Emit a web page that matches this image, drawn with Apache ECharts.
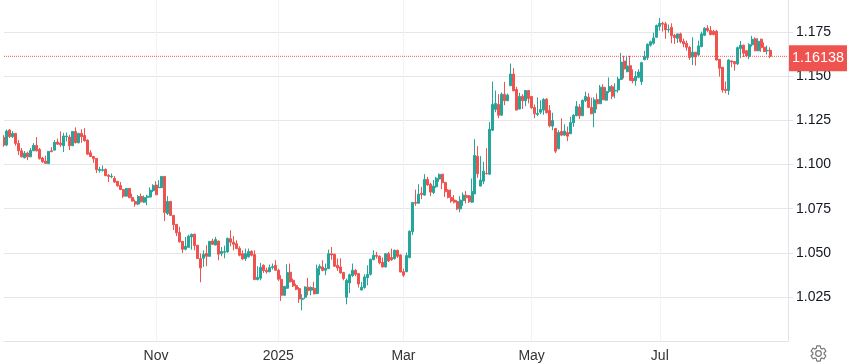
<!DOCTYPE html>
<html>
<head>
<meta charset="utf-8">
<title>Candles</title>
<script src="https://cdn.jsdelivr.net/npm/echarts@6/dist/echarts.min.js"></script>
<style>
  html, body { margin: 0; padding: 0; background: #fff; }
  #chart { width: 847px; height: 364px; }
</style>
</head>
<body>
<div id="chart"></div>
<script>
// every row: open, close, low, high
const candlesAugOct = [
  [1.1154,1.1111,1.1101,1.1167],[1.1111,1.1190,1.1105,1.1199],[1.1196,1.1158,1.1150,1.1201],[1.1158,1.1177,1.1150,1.1190],
  [1.1177,1.1120,1.1107,1.1180],[1.1120,1.1078,1.1054,1.1139],[1.1078,1.1044,1.1042,1.1094],[1.1039,1.1065,1.1035,1.1077],
  [1.1065,1.1044,1.1025,1.1073],[1.1044,1.1080,1.1042,1.1094],[1.1078,1.1109,1.1077,1.1122],[1.1109,1.1078,1.1075,1.1156],
  [1.1086,1.1033,1.1029,1.1094],[1.1037,1.1016,1.1010,1.1044],[1.1020,1.1007,1.1005,1.1050],[1.1005,1.1075,1.1005,1.1075],
  [1.1078,1.1073,1.1071,1.1099],[1.1082,1.1126,1.1080,1.1139],[1.1128,1.1116,1.1111,1.1148],[1.1122,1.1112,1.1101,1.1188],
  [1.1107,1.1162,1.1071,1.1180],[1.1158,1.1162,1.1131,1.1182],[1.1156,1.1107,1.1082,1.1169],[1.1107,1.1188,1.1105,1.1190],
  [1.1188,1.1124,1.1120,1.1211],[1.1124,1.1177,1.1120,1.1180],[1.1177,1.1158,1.1124,1.1201],[1.1165,1.1135,1.1131,1.1207],
  [1.1139,1.1059,1.1056,1.1143],[1.1067,1.1046,1.1042,1.1082],[1.1046,1.1033,1.1010,1.1048],[1.1035,1.0971,1.0952,1.1037],
  [1.0967,1.0973,1.0954,1.0988],[1.0967,1.0971,1.0961,1.0995],[1.0973,1.0937,1.0935,1.0978],[1.0940,1.0933,1.0901,1.0946],
  [1.0931,1.0935,1.0923,1.0950],[1.0922,1.0901,1.0895,1.0935],[1.0905,1.0880,1.0874,1.0908],[1.0882,1.0859,1.0855,1.0901],
  [1.0859,1.0821,1.0810,1.0861],[1.0821,1.0865,1.0819,1.0867],[1.0865,1.0812,1.0810,1.0867],[1.0814,1.0793,1.0791,1.0836],
  [1.0791,1.0776,1.0761,1.0802],[1.0776,1.0819,1.0770,1.0827],[1.0819,1.0789,1.0785,1.0836],[1.0787,1.0814,1.0782,1.0825],
  [1.0814,1.0821,1.0770,1.0829],[1.0816,1.0855,1.0814,1.0871],[1.0852,1.0882,1.0844,1.0889]
];
const candlesNovDec = [
  [1.0884,1.0829,1.0827,1.0906],[1.0869,1.0871,1.0869,1.0912],[1.0869,1.0933,1.0867,1.0935],[1.0933,1.0729,1.0680,1.0935],
  [1.0723,1.0791,1.0714,1.0821],[1.0791,1.0712,1.0710,1.0795],[1.0712,1.0659,1.0629,1.0714],[1.0661,1.0613,1.0595,1.0663],
  [1.0615,1.0562,1.0558,1.0647],[1.0565,1.0520,1.0499,1.0567],[1.0520,1.0537,1.0514,1.0590],[1.0531,1.0594,1.0528,1.0603],
  [1.0590,1.0605,1.0518,1.0609],[1.0605,1.0541,1.0514,1.0609],[1.0543,1.0467,1.0467,1.0543],[1.0467,1.0414,1.0333,1.0496],
  [1.0469,1.0492,1.0420,1.0514],[1.0496,1.0480,1.0424,1.0543],[1.0480,1.0565,1.0480,1.0567],[1.0567,1.0548,1.0544,1.0580],
  [1.0544,1.0575,1.0543,1.0590],[1.0567,1.0492,1.0458,1.0567],[1.0495,1.0507,1.0480,1.0533],[1.0503,1.0507,1.0469,1.0541],
  [1.0505,1.0582,1.0501,1.0586],[1.0580,1.0560,1.0537,1.0628],[1.0560,1.0548,1.0514,1.0594],[1.0552,1.0524,1.0520,1.0571],
  [1.0526,1.0486,1.0480,1.0537],[1.0495,1.0465,1.0461,1.0514],[1.0467,1.0495,1.0454,1.0524],[1.0477,1.0507,1.0473,1.0524],
  [1.0509,1.0486,1.0480,1.0514],[1.0490,1.0348,1.0346,1.0514],[1.0348,1.0361,1.0344,1.0424],[1.0356,1.0418,1.0344,1.0443],
  [1.0429,1.0399,1.0386,1.0435],[1.0401,1.0392,1.0382,1.0416],[1.0392,1.0416,1.0390,1.0433],[1.0416,1.0422,1.0405,1.0439],
  [1.0429,1.0401,1.0397,1.0458],[1.0401,1.0350,1.0341,1.0410]
];
const candlesJanFeb = [
  [1.0350,1.0259,1.0227,1.0373],[1.0259,1.0310,1.0259,1.0310],[1.0299,1.0388,1.0295,1.0435],[1.0390,1.0335,1.0333,1.0439],
  [1.0344,1.0312,1.0306,1.0354],[1.0314,1.0293,1.0288,1.0325],[1.0297,1.0238,1.0216,1.0306],[1.0236,1.0240,1.0174,1.0265],
  [1.0248,1.0306,1.0238,1.0310],[1.0305,1.0286,1.0259,1.0358],[1.0288,1.0303,1.0259,1.0310],[1.0299,1.0267,1.0265,1.0335],
  [1.0269,1.0410,1.0265,1.0433],[1.0412,1.0424,1.0373,1.0435],[1.0420,1.0401,1.0395,1.0458],[1.0401,1.0412,1.0373,1.0439],
  [1.0410,1.0495,1.0408,1.0518],[1.0494,1.0488,1.0461,1.0533],[1.0492,1.0424,1.0420,1.0495],[1.0429,1.0414,1.0397,1.0467],
  [1.0420,1.0386,1.0382,1.0469],[1.0388,1.0354,1.0344,1.0392],[1.0248,1.0344,1.0208,1.0354],[1.0329,1.0376,1.0272,1.0382],
  [1.0371,1.0401,1.0363,1.0439],[1.0401,1.0378,1.0367,1.0407],[1.0382,1.0323,1.0303,1.0386],[1.0289,1.0305,1.0288,1.0335],
  [1.0303,1.0363,1.0297,1.0378],[1.0359,1.0378,1.0316,1.0429],[1.0378,1.0463,1.0371,1.0467],[1.0461,1.0486,1.0458,1.0514],
  [1.0486,1.0480,1.0467,1.0505],[1.0480,1.0443,1.0435,1.0486],[1.0446,1.0420,1.0416,1.0473],[1.0420,1.0495,1.0416,1.0499],
  [1.0495,1.0454,1.0448,1.0505],[1.0473,1.0461,1.0454,1.0524],[1.0467,1.0514,1.0461,1.0518],[1.0514,1.0480,1.0471,1.0518],
  [1.0488,1.0391,1.0390,1.0492],[1.0393,1.0373,1.0363,1.0410]
];
const candlesMarApr = [
  [1.0393,1.0484,1.0390,1.0501],[1.0473,1.0622,1.0469,1.0628],[1.0620,1.0785,1.0601,1.0788],[1.0786,1.0781,1.0766,1.0858],
  [1.0781,1.0832,1.0779,1.0889],[1.0838,1.0831,1.0804,1.0874],[1.0827,1.0916,1.0825,1.0946],[1.0916,1.0885,1.0880,1.0931],
  [1.0889,1.0844,1.0821,1.0897],[1.0842,1.0878,1.0833,1.0912],[1.0874,1.0923,1.0868,1.0931],[1.0918,1.0944,1.0902,1.0950],
  [1.0946,1.0897,1.0861,1.0946],[1.0899,1.0846,1.0817,1.0902],[1.0855,1.0814,1.0808,1.0861],[1.0814,1.0793,1.0783,1.0859],
  [1.0799,1.0787,1.0780,1.0827],[1.0791,1.0749,1.0742,1.0799],[1.0749,1.0799,1.0730,1.0821],[1.0795,1.0827,1.0766,1.0842],
  [1.0825,1.0812,1.0780,1.0850],[1.0823,1.0789,1.0783,1.0827],[1.0787,1.0848,1.0783,1.0921],[1.0834,1.1052,1.0833,1.1144],
  [1.1048,1.0948,1.0925,1.1105],[1.0878,1.0912,1.0878,1.1048],[1.0906,1.0963,1.0889,1.1016],[1.0950,1.0948,1.0944,1.1093],
  [1.0946,1.1201,1.0942,1.1241],[1.1195,1.1341,1.1190,1.1471],[1.1313,1.1347,1.1297,1.1420],[1.1341,1.1280,1.1263,1.1399],
  [1.1280,1.1399,1.1278,1.1409],[1.1399,1.1362,1.1337,1.1469],[1.1362,1.1394,1.1360,1.1403],[1.1447,1.1513,1.1445,1.1573],
  [1.1513,1.1418,1.1417,1.1547],[1.1426,1.1309,1.1307,1.1441],[1.1315,1.1386,1.1313,1.1407],[1.1388,1.1362,1.1315,1.1399],
  [1.1362,1.1420,1.1331,1.1422],[1.1420,1.1375,1.1347,1.1422],[1.1386,1.1322,1.1316,1.1390]
];
const candlesMayJun = [
  [1.1324,1.1288,1.1263,1.1341],[1.1284,1.1290,1.1275,1.1381],[1.1297,1.1313,1.1286,1.1365],[1.1309,1.1369,1.1282,1.1377],
  [1.1371,1.1294,1.1290,1.1377],[1.1307,1.1220,1.1211,1.1337],[1.1218,1.1250,1.1195,1.1294],[1.1205,1.1076,1.1065,1.1207],
  [1.1090,1.1182,1.1086,1.1195],[1.1188,1.1167,1.1161,1.1262],[1.1167,1.1190,1.1165,1.1229],[1.1182,1.1161,1.1133,1.1216],
  [1.1175,1.1239,1.1173,1.1271],[1.1237,1.1280,1.1214,1.1286],[1.1277,1.1330,1.1275,1.1360],[1.1326,1.1277,1.1258,1.1343],
  [1.1277,1.1364,1.1277,1.1369],[1.1362,1.1386,1.1354,1.1413],[1.1382,1.1324,1.1320,1.1405],[1.1324,1.1288,1.1286,1.1379],
  [1.1294,1.1367,1.1212,1.1381],[1.1369,1.1345,1.1313,1.1403],[1.1345,1.1439,1.1343,1.1451],[1.1439,1.1367,1.1366,1.1456],
  [1.1365,1.1415,1.1362,1.1439],[1.1415,1.1443,1.1405,1.1494],[1.1441,1.1388,1.1371,1.1452],[1.1417,1.1421,1.1376,1.1461],
  [1.1423,1.1485,1.1408,1.1498],[1.1483,1.1581,1.1479,1.1633],[1.1587,1.1542,1.1489,1.1617],[1.1527,1.1559,1.1523,1.1617],
  [1.1561,1.1478,1.1476,1.1617],[1.1489,1.1474,1.1461,1.1540],[1.1476,1.1500,1.1447,1.1530],[1.1495,1.1525,1.1489,1.1540],
  [1.1470,1.1578,1.1451,1.1583],[1.1595,1.1614,1.1591,1.1644],[1.1606,1.1682,1.1593,1.1687],[1.1677,1.1696,1.1669,1.1703],
  [1.1688,1.1718,1.1680,1.1748],[1.1722,1.1788,1.1720,1.1794]
];
const candlesJulAug = [
  [1.1783,1.1801,1.1760,1.1832],[1.1801,1.1796,1.1754,1.1809],[1.1798,1.1764,1.1713,1.1809],[1.1764,1.1767,1.1748,1.1794],
  [1.1779,1.1730,1.1688,1.1801],[1.1733,1.1720,1.1684,1.1741],[1.1716,1.1741,1.1690,1.1741],[1.1741,1.1697,1.1688,1.1748],
  [1.1699,1.1684,1.1665,1.1714],[1.1688,1.1665,1.1646,1.1703],[1.1665,1.1607,1.1593,1.1673],[1.1610,1.1637,1.1565,1.1722],
  [1.1637,1.1610,1.1561,1.1639],[1.1622,1.1673,1.1616,1.1703],[1.1669,1.1741,1.1665,1.1754],[1.1733,1.1773,1.1730,1.1779],
  [1.1773,1.1760,1.1752,1.1790],[1.1760,1.1737,1.1733,1.1786],[1.1756,1.1737,1.1733,1.1764],[1.1756,1.1593,1.1590,1.1764],
  [1.1597,1.1546,1.1499,1.1597],[1.1552,1.1423,1.1408,1.1552],[1.1427,1.1420,1.1404,1.1471],[1.1420,1.1593,1.1395,1.1597],
  [1.1588,1.1582,1.1552,1.1590],[1.1584,1.1571,1.1533,1.1584],[1.1571,1.1663,1.1565,1.1669],[1.1658,1.1677,1.1603,1.1701],
  [1.1677,1.1631,1.1610,1.1680],[1.1646,1.1616,1.1609,1.1650],[1.1612,1.1680,1.1597,1.1688],[1.1679,1.1711,1.1669,1.1730],
  [1.1713,1.1645,1.1643,1.1722],[1.1645,1.1699,1.1643,1.1716],[1.1711,1.1663,1.1639,1.1714],[1.1665,1.1641,1.1639,1.1692],
  [1.1645,1.1648,1.1624,1.1675],[1.1648,1.16138,1.1603,1.1665]
];
const lastPrice = 1.16138;
const tickSlots = [51, 92, 134, 177, 220];
const tickLabels = ['Nov', '2025', 'Mar', 'May', 'Jul'];
const emptySlotsRight = 6;

const candles = [].concat(candlesAugOct, candlesNovDec, candlesJanFeb, candlesMarApr, candlesMayJun, candlesJulAug);

// category per slot, only the month starts carry text
const categories = [];
for (let i = 0; i < candles.length + emptySlotsRight; i++) {
    const t = tickSlots.indexOf(i);
    categories.push(t >= 0 ? tickLabels[t] : '');
}

const upColor = '#26a69a';
const downColor = '#ef5350';
const gearPath = 'M19.14 12.94c.04-.3.06-.61.06-.94 0-.32-.02-.64-.07-.94l2.03-1.58c.18-.14.23-.41.12-.61l-1.92-3.32c-.12-.22-.37-.29-.59-.22l-2.39.96c-.5-.38-1.03-.7-1.62-.94l-.36-2.54c-.04-.24-.24-.41-.48-.41h-3.84c-.24 0-.43.17-.47.41l-.36 2.54c-.59.24-1.13.57-1.62.94l-2.39-.96c-.22-.08-.47 0-.59.22L2.74 8.87c-.12.21-.08.47.12.61l2.03 1.58c-.05.3-.09.63-.09.94s.02.64.07.94l-2.03 1.58c-.18.14-.23.41-.12.61l1.92 3.32c.12.22.37.29.59.22l2.39-.96c.5.38 1.03.7 1.62.94l.36 2.54c.05.24.24.41.48.41h3.84c.24 0 .44-.17.47-.41l.36-2.54c.59-.24 1.13-.56 1.62-.94l2.39.96c.22.08.47 0 .59-.22l1.92-3.32c.12-.22.07-.47-.12-.61l-2.01-1.58zM12 15.6c-1.98 0-3.6-1.62-3.6-3.6s1.62-3.6 3.6-3.6 3.6 1.62 3.6 3.6-1.62 3.6-3.6 3.6z';

const chart = echarts.init(document.getElementById('chart'));
chart.setOption({
    animation: false,
    backgroundColor: '#fff',
    grid: { left: 4, right: 59, top: 0, bottom: 23, containLabel: false },
    xAxis: {
        type: 'category',
        data: categories,
        boundaryGap: false,
        axisLine: { show: true, onZero: false, lineStyle: { color: '#e0e3eb', width: 1 } },
        axisTick: { show: false },
        axisLabel: {
            interval: 0,
            color: '#333',
            fontFamily: 'Liberation Sans',
            fontSize: 14,
            margin: 8
        },
        splitLine: {
            show: true,
            interval: (i, v) => v !== '',
            lineStyle: { color: '#f0f3fa', width: 1 }
        }
    },
    yAxis: {
        type: 'value',
        position: 'right',
        scale: true,
        min: 1,
        max: 1.19331,
        interval: 0.025,
        axisLine: { show: true, lineStyle: { color: '#e0e3eb', width: 1 } },
        axisTick: { show: true, length: 5, lineStyle: { color: '#e0e3eb', width: 1 } },
        axisLabel: {
            color: '#131722',
            fontFamily: 'Liberation Sans',
            fontSize: 14,
            margin: 8,
            padding: [2, 0, 0, 0],
            showMinLabel: false,
            showMaxLabel: false,
            formatter: (v) => v.toFixed(3)
        },
        splitLine: {
            show: true,
            showMinLine: false,
            showMaxLine: false,
            lineStyle: { color: '#e6e6e6', width: 1 }
        }
    },
    series: [{
        type: 'candlestick',
        data: candles,
        barWidth: 2.5,
        itemStyle: {
            color: upColor,
            color0: downColor,
            borderColor: upColor,
            borderColor0: downColor,
            borderWidth: 1
        }
    }, {
        // last price level with its tag on the axis
        type: 'line',
        data: categories.map(() => lastPrice),
        showSymbol: false,
        silent: true,
        z: 5,
        lineStyle: { type: [1, 1], color: downColor, width: 1 },
        endLabel: {
            show: true,
            distance: 1,
            offset: [0, 2],
            formatter: () => String(lastPrice),
            color: '#fff',
            fontFamily: 'Liberation Sans',
            fontSize: 14.4,
            backgroundColor: downColor,
            padding: [6, 3, 6, 3]
        }
    }]
});

// settings gear in the bottom right corner
chart.getZr().add(echarts.graphic.makePath(gearPath, {
    silent: true,
    style: { fill: 'none', stroke: '#777', lineWidth: 1.2 }
}, { x: 809, y: 344, width: 19, height: 19 }, 'center'));
</script>
</body>
</html>
